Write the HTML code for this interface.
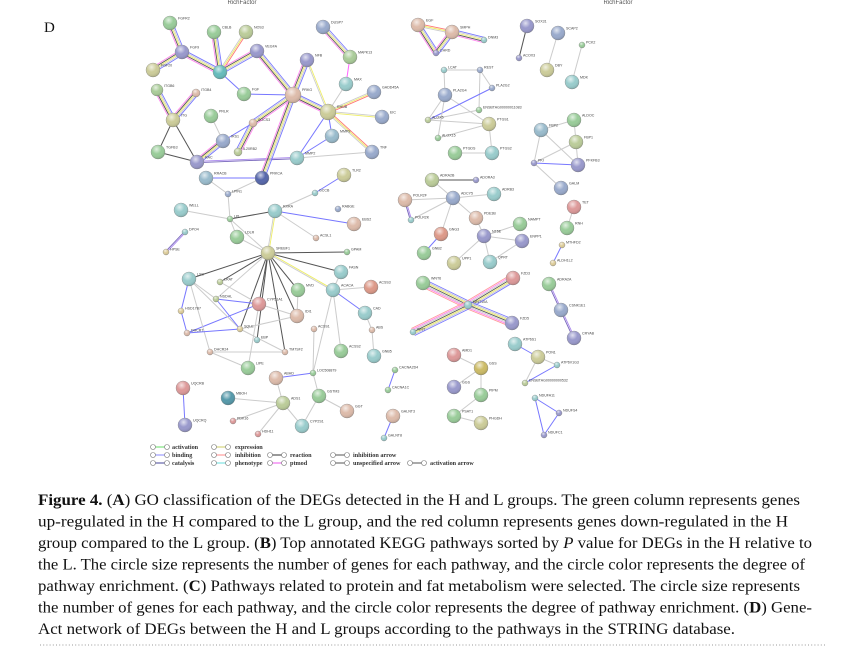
<!DOCTYPE html>
<html><head><meta charset="utf-8"><style>
html,body{margin:0;padding:0;background:#fff;width:863px;height:664px;overflow:hidden}
svg{position:absolute;left:0;top:0}
</style></head><body>
<svg id="s" width="863" height="664" viewBox="0 0 863 664" xmlns="http://www.w3.org/2000/svg">
<defs>
<radialGradient id="hl" cx="0.4" cy="0.3" r="0.7"><stop offset="0" stop-color="#fff" stop-opacity="0.7"/><stop offset="0.5" stop-color="#fff" stop-opacity="0"/><stop offset="1" stop-color="#000" stop-opacity="0.15"/></radialGradient>
</defs>
<text x="242" y="4" font-family="Liberation Sans, sans-serif" font-size="6" fill="#555" text-anchor="middle">RichFactor</text>
<text x="618" y="4" font-family="Liberation Sans, sans-serif" font-size="6" fill="#555" text-anchor="middle">RichFactor</text>
<text x="44" y="32" font-family="Liberation Serif, serif" font-size="15" fill="#111">D</text>
<g id="edges"></g><g id="nodes"></g>
<g font-family="Liberation Serif, serif" font-size="6.2" font-weight="bold" fill="#333">
<text x="172" y="449">activation</text><text x="172" y="457">binding</text><text x="172" y="465">catalysis</text>
<text x="235" y="449">expression</text><text x="235" y="457">inhibition</text><text x="235" y="465">phenotype</text>
<text x="290" y="457">reaction</text><text x="290" y="465">ptmod</text>
<text x="353" y="457">inhibition arrow</text><text x="353" y="465">unspecified arrow</text><text x="430" y="465">activation arrow</text>
</g>
<g id="leg"></g>
<g font-family="Liberation Serif, serif" font-size="16" fill="#111">
<text x="38" y="505" textLength="762" lengthAdjust="spacingAndGlyphs"><tspan font-weight="bold">Figure 4.</tspan>  (<tspan font-weight="bold">A</tspan>) GO classification of the DEGs detected in the H and L groups. The green column represents genes</text>
<text x="38" y="526.5" textLength="750" lengthAdjust="spacingAndGlyphs">up-regulated in the H compared to the L group, and the red column represents genes down-regulated in the H</text>
<text x="38" y="548" textLength="774" lengthAdjust="spacingAndGlyphs">group compared to the L group. (<tspan font-weight="bold">B</tspan>) Top annotated KEGG pathways sorted by <tspan font-style="italic">P</tspan> value for DEGs in the H relative to</text>
<text x="38" y="569.5" textLength="767" lengthAdjust="spacingAndGlyphs">the L. The circle size represents the number of genes for each pathway, and the circle color represents the degree of</text>
<text x="38" y="591" textLength="762" lengthAdjust="spacingAndGlyphs">pathway enrichment. (<tspan font-weight="bold">C</tspan>) Pathways related to protein and fat metabolism were selected. The circle size represents</text>
<text x="38" y="612.5" textLength="774" lengthAdjust="spacingAndGlyphs">the number of genes for each pathway, and the circle color represents the degree of pathway enrichment. (<tspan font-weight="bold">D</tspan>) Gene-</text>
<text x="38" y="634" textLength="697" lengthAdjust="spacingAndGlyphs">Act network of DEGs between the H and L groups according to the pathways in the STRING database.</text>
</g>
<line x1="40" y1="645" x2="826" y2="645" stroke="#999" stroke-width="1" stroke-dasharray="1 2.2"/>
</svg>
<script>
var N={
FGFR2:[170,23,7,'#9c9','FGFR2'],CBLB:[214,32,7,'#9c9','CBLB'],NOS3:[246,32,7,'#bc9','NOS3'],FGF9:[182,52,7,'#99c','FGF9'],VEGFA:[257,51,7,'#99c','VEGFA'],FGF20:[153,70,7,'#cc9','FGF20'],HUB:[220,72,7,'#6bb',''],FGF:[244,94,7,'#9c9','FGF'],ITGB6:[157,90,6,'#ac9','ITGB6'],ITGB4:[196,93,4,'#dba','ITGB4'],NFB:[307,60,7,'#99c','NFB'],DUSP7:[323,27,7,'#9ac','DUSP7'],MAPK13:[350,57,7,'#ac9','MAPK13'],MAX:[346,84,7,'#9cc','MAX'],GADD:[374,92,7,'#9ac','GADD45A'],PRKG:[293,95,8,'#dba','PRKG'],EIC:[382,117,7,'#9ac','EIC'],RHUB:[328,112,8,'#cc9','RHUB'],ITGB:[173,120,7,'#cc9','ITG'],PRLR:[211,116,7,'#9c9','PRLR'],SOCS:[253,123,4,'#dba','SOCS3'],IRS:[223,141,7,'#9ac','IRS1'],IL20:[238,152,4,'#bc9','IL20RB2'],TGFB3:[158,152,7,'#9c9','TGFB3'],MMP9:[332,136,7,'#9bc','MMP9'],TNF:[372,152,7,'#9ac','TNF'],RAC:[197,162,7,'#99c','RAC'],MMP2:[297,158,7,'#9cc','MMP2'],TLR2:[344,175,7,'#cc9','TLR2'],RRAC:[206,178,7,'#9bc','RRACB'],PRKCA:[262,178,7,'#56a','PRKCA'],
LPIN1:[228,194,3,'#9ac','LPIN1'],GCCB:[315,193,3,'#9cc','GCCB'],WELL:[181,210,7,'#9cc','WELL'],LPL:[230,219,3,'#9c9','LPL'],RXRA:[275,211,7,'#9cc','RXRA'],RABGE:[338,209,3,'#9ac','RABGE'],EBS2:[354,224,7,'#dba','EBS2'],DPO4:[185,232,3,'#9cc','DPO4'],HPSE:[166,252,3,'#dc9','HPSE'],LDLR:[237,237,7,'#9c9','LDLR'],ACSL1:[316,238,3,'#dba','ACSL1'],SREBF1:[268,253,7,'#cc9','SREBF1'],GPAM:[347,252,3,'#9c9','GPAM'],FASN:[341,272,7,'#9cc','FASN'],LSS:[189,279,7,'#9cc','LSS'],LRAT:[220,282,3,'#bc9','LRAT'],MVD:[298,290,7,'#9c9','MVD'],ACACA:[333,290,7,'#9cc','ACACA'],ACSS:[371,287,7,'#d98','ACSS3'],NSDHL:[216,299,3,'#bc9','NSDHL'],CYP51:[259,304,7,'#d99','CYP51A1'],IDI:[297,316,7,'#dba','IDI1'],HSD:[181,311,3,'#dc9','HSD17B7'],CAD:[365,313,7,'#9cc','CAD'],SQLE:[240,329,3,'#dc9','SQLE'],ABS:[372,330,3,'#dba','ABS'],DHCR:[187,333,3,'#dba','DHCR7'],LD2:[257,340,3,'#9cc','EBP'],ACSS1:[314,329,3,'#dba','ACSS1'],TSP:[285,352,3,'#dba','TM7SF2'],DHCR24:[210,352,3,'#dba','DHCR24'],ACSS2:[341,351,7,'#9c9','ACSS2'],GNB:[374,356,7,'#9cc','GNB5'],LIPE:[248,368,7,'#9c9','LIPE'],ABHD:[276,378,7,'#dba','ABHD'],LOC:[313,373,3,'#9c9','LOC508879'],GSTM:[319,396,7,'#9c9','GSTM3'],GG:[347,411,7,'#dba','GGT'],UQCRB:[183,388,7,'#d99','UQCRB'],MBOH:[228,398,7,'#59a','MBOH'],ADS:[283,403,7,'#bc9','ADS1'],PDK:[233,421,3,'#d99','PDK16'],CYP:[302,426,7,'#9cc','CYP2S1'],HDH:[258,434,3,'#d99','HDH11'],UQCRQ:[185,425,7,'#99c','UQCRQ'],CAC:[395,370,3,'#9c9','CACNA2D4'],CAC2:[388,390,3,'#9c9','CACNA1C'],GALNT:[393,416,7,'#dba','GALNT3'],GALNT2:[384,438,3,'#9cc','GALNT8'],
EGF:[418,25,7,'#dba','EGF'],SMPH:[452,32,7,'#dba','SMPH'],DNM:[484,40,3,'#9cc','DNM3'],CHRD:[436,53,3,'#99c','CHRD'],SOX:[527,26,7,'#99c','SOX31'],ACOX:[519,58,3,'#99c','ACOX3'],SCAP:[558,33,7,'#9ac','SCAP2'],DBY:[547,70,7,'#cc9','DBY'],PCK:[582,45,3,'#9c9','PCK2'],MDK:[572,82,7,'#9cc','MDK'],LCAT:[444,70,3,'#9cc','LCAT'],REST:[480,70,3,'#9ac','REST'],PLA4:[445,95,7,'#9ac','PLA2G4'],PLA2:[492,88,3,'#9ac','PLA2G2'],ENSG:[479,110,3,'#9c9','ENSBTAG00000011083'],ALOX:[428,120,3,'#bc9','ALOX5'],PTGS1:[489,124,7,'#cc9','PTGS1'],ALOX15:[438,138,3,'#9c9','ALOX15'],PTGDS:[455,153,7,'#9c9','PTGDS'],PTGS2:[492,153,7,'#9cc','PTGS2'],FBP2:[541,130,7,'#9bc','FBP2'],ALDOC:[574,120,7,'#9c9','ALDOC'],FBP1:[576,142,7,'#bc9','FBP1'],PKI:[534,163,3,'#99c','PKI'],PRKFB3:[578,165,7,'#99c','PFKFB3'],GALM:[561,188,7,'#9ac','GALM'],
ADRA2B:[432,180,7,'#bc9','ADRA2B'],ADORA:[476,180,3,'#99c','ADORA3'],ADCY5:[453,198,7,'#9ac','ADCY5'],ADRB:[494,194,7,'#9cc','ADRB3'],POLR2F:[405,200,7,'#dba','POLR2F'],POLR2K:[411,220,3,'#9cc','POLR2K'],PDE:[476,218,7,'#dba','PDE3B'],GNG3:[441,234,7,'#d98','GNG3'],NAMPT:[520,224,7,'#9c9','NAMPT'],NT5E:[484,236,7,'#99c','NT5E'],ENPP:[522,241,7,'#99c','ENPP1'],GNB2:[424,253,7,'#9c9','GNB2'],UPP1:[454,263,7,'#cc9','UPP1'],QPRT:[490,262,7,'#9cc','QPRT'],TET:[574,207,7,'#d99','TET'],RNH:[567,228,7,'#9c9','RNH'],MTHFD:[562,245,3,'#dc9','MTHFD2'],ALDH:[553,263,3,'#dc9','ALDH1L2'],
WNT:[423,283,7,'#9c9','WNT6'],FZD3:[513,278,7,'#d99','FZD3'],CTR:[468,305,4,'#9cc','WNT10A'],FZD5:[512,323,7,'#99c','FZD5'],WNT2:[413,332,3,'#9cc','WNT'],ADRA2A:[549,284,7,'#9c9','ADRA2A'],CSNK:[561,310,7,'#9ac','CSNK1E1'],CRY:[574,338,7,'#99c','CRYAB'],ATP6:[515,344,7,'#9cc','ATP6S1'],PON1:[538,357,7,'#cc9','PON1'],ATP6V:[557,365,3,'#9cc','ATP6V1G3'],ENSG2:[525,383,3,'#bc9','ENSBTAG00000000532'],AMD:[454,355,7,'#d99','AMD1'],GSS:[481,368,7,'#cb6','GSS'],GGS:[454,387,7,'#99c','GGS'],PIPM:[481,395,7,'#9c9','PIPM'],PSAT:[454,416,7,'#9c9','PSAT1'],PHGDH:[481,423,7,'#cc9','PHGDH'],NDUFA:[535,398,3,'#9cc','NDUFA11'],NDUFS:[559,413,3,'#99c','NDUFS4'],NDUFC:[544,435,3,'#99c','NDUFC1']};
var E=[
'FGFR2 FGF9 m','FGF9 FGF20 m','FGF9 HUB m','CBLB HUB m','NOS3 HUB r','VEGFA HUB m','HUB FGF b','FGF PRKG b','VEGFA PRKG m','NFB PRKG m','NFB RHUB y','DUSP7 MAPK13 m','MAPK13 MAX p','MAX RHUB g','GADD RHUB r','PRKG RHUB m','EIC RHUB y','RHUB MMP9 b','RHUB MMP2 b','RHUB TNF r','MMP9 MMP2 b','MMP2 TNF g','RAC MMP2 v','ITGB6 ITGB m','ITGB4 ITGB m','ITGB TGFB3 k','ITGB RAC k','TGFB3 RAC k','IRS RAC m','IRS SOCS b','SOCS PRKG m','IL20 SOCS m','PRLR IRS g','PRKG PRKCA m','RRAC PRKCA b','PRKCA LPIN1 g','RRAC LPIN1 g','LPIN1 LPL g','GCCB TLR2 b','GCCB RXRA g','RXRA LPL k','RXRA EBS2 b','RXRA SREBF1 y','RXRA ACSL1 g','WELL LPL g','DPO4 HPSE v','LPL LDLR g','LPL SREBF1 g','LDLR SREBF1 g','SREBF1 GPAM k','SREBF1 FASN k','SREBF1 ACACA y','SREBF1 LSS k','SREBF1 LRAT k','SREBF1 MVD k','SREBF1 CYP51 k','SREBF1 IDI k','SREBF1 SQLE k','SREBF1 LD2 k','SREBF1 TSP k','SREBF1 NSDHL g','LSS HSD b','HSD DHCR b','DHCR CYP51 b','NSDHL CYP51 b','LSS SQLE g','LSS NSDHL g','NSDHL SQLE b','LSS DHCR24 g','DHCR SQLE b','SQLE TSP g','DHCR24 TSP g','LRAT CYP51 g','CYP51 IDI g','IDI MVD g','SQLE IDI g','ACACA FASN g','ACACA CAD b','ACACA ACSS g','ACACA ACSS2 g','ACACA LOC g','CAD ABS g','ABS GNB g','ACSS1 LOC g','LOC ABHD b','LOC GSTM g','GSTM GG g','GSTM CYP g','ABHD ADS g','ADS MBOH g','ADS PDK g','ADS CYP g','ADS HDH g','UQCRB UQCRQ b','CAC CAC2 b','GALNT GALNT2 b','LIPE CYP51 g','LIPE DHCR24 g',
'EGF SMPH r','SMPH DNM m','EGF CHRD m','SMPH CHRD m','SOX ACOX k','SCAP DBY g','PCK MDK g','LCAT PLA4 g','LCAT REST g','REST PLA2 g','REST ENSG g','PLA4 PTGS1 g','PLA2 ALOX b','PLA4 ALOX g','PLA4 ALOX15 g','ALOX PTGS1 g','ALOX15 PTGS1 g','PTGS1 PTGS2 g','PTGDS PTGS2 g','ENSG ALOX g','FBP2 ALDOC g','FBP2 PKI g','FBP2 PRKFB3 g','ALDOC FBP1 g','FBP1 PRKFB3 g','PKI FBP1 g','PKI PRKFB3 b','PKI GALM g','ADRA2B ADORA k','ADCY5 ADRA2B g','ADCY5 ADRB g','ADCY5 POLR2F g','ADCY5 POLR2K g','ADCY5 GNG3 g','ADCY5 PDE g','POLR2F POLR2K v','GNG3 GNB2 b','PDE NT5E g','NT5E NAMPT g','NT5E ENPP g','NT5E UPP1 g','NT5E QPRT g','ENPP QPRT g','TET RNH g','MTHFD ALDH b','WNT CTR M','FZD3 CTR M','CTR FZD5 M','CTR WNT2 M','ADRA2A CSNK v','CSNK CRY v','ATP6 PON1 b','PON1 ATP6V g','PON1 ENSG2 g','ENSG2 ATP6V b','AMD GSS g','GSS GGS g','GSS PIPM g','PIPM PSAT g','PSAT PHGDH g','NDUFA NDUFS b','NDUFA NDUFC b','NDUFS NDUFC b'];
var C={g:['#ccc'],b:['#77f'],k:['#555'],y:['#ee6','#ccc'],p:['#f6f'],v:['#a8e','#76b'],r:['#f77','#ee6','#ccc'],m:['#77f','#ccc','#ee6','#555','#f8e'],M:['#77f','#ccc','#ee6','#555','#ccc','#f8e','#f99']};
var ns='http://www.w3.org/2000/svg',eg=document.getElementById('edges'),ng=document.getElementById('nodes');
function el(t,a,p){var e=document.createElementNS(ns,t);for(var k in a)e.setAttribute(k,a[k]);p.appendChild(e);return e;}
E.forEach(function(s){var q=s.split(' '),a=N[q[0]],b=N[q[1]],cs=C[q[2]];var dx=b[0]-a[0],dy=b[1]-a[1],L=Math.hypot(dx,dy)||1,px=-dy/L,py=dx/L,n=cs.length,sp=1.3;
for(var i=0;i<n;i++){var o=(i-(n-1)/2)*sp;el('line',{x1:a[0]+px*o,y1:a[1]+py*o,x2:b[0]+px*o,y2:b[1]+py*o,stroke:cs[i],'stroke-width':n>1?0.9:1},eg);}});
for(var k in N){var v=N[k];el('circle',{cx:v[0],cy:v[1],r:v[2],fill:v[3],stroke:'#8a8a8a','stroke-width':0.4},ng);el('circle',{cx:v[0],cy:v[1],r:v[2],fill:'url(#hl)'},ng);
if(v[4]){var t=el('text',{x:v[0]+v[2]+1,y:v[1]-v[2]/2,'font-family':'Liberation Sans, sans-serif','font-size':3.6,fill:'#444'},ng);t.textContent=v[4];}}
var lg=document.getElementById('leg');
[[153,447,'#6d6'],[153,455,'#88f'],[153,463,'#449'],[214,447,'#cc6'],[214,455,'#f88'],[214,463,'#6dd'],[270,455,'#333'],[270,463,'#e5e'],[333,455,'#555'],[333,463,'#555'],[410,463,'#555']].forEach(function(l){
el('line',{x1:l[0],y1:l[1],x2:l[0]+14,y2:l[1],stroke:l[2],'stroke-width':1},lg);el('circle',{cx:l[0],cy:l[1],r:2.5,fill:'#fff',stroke:'#777','stroke-width':0.6},lg);el('circle',{cx:l[0]+14,cy:l[1],r:2.5,fill:'#fff',stroke:'#777','stroke-width':0.6},lg);});
</script>
</body></html>
